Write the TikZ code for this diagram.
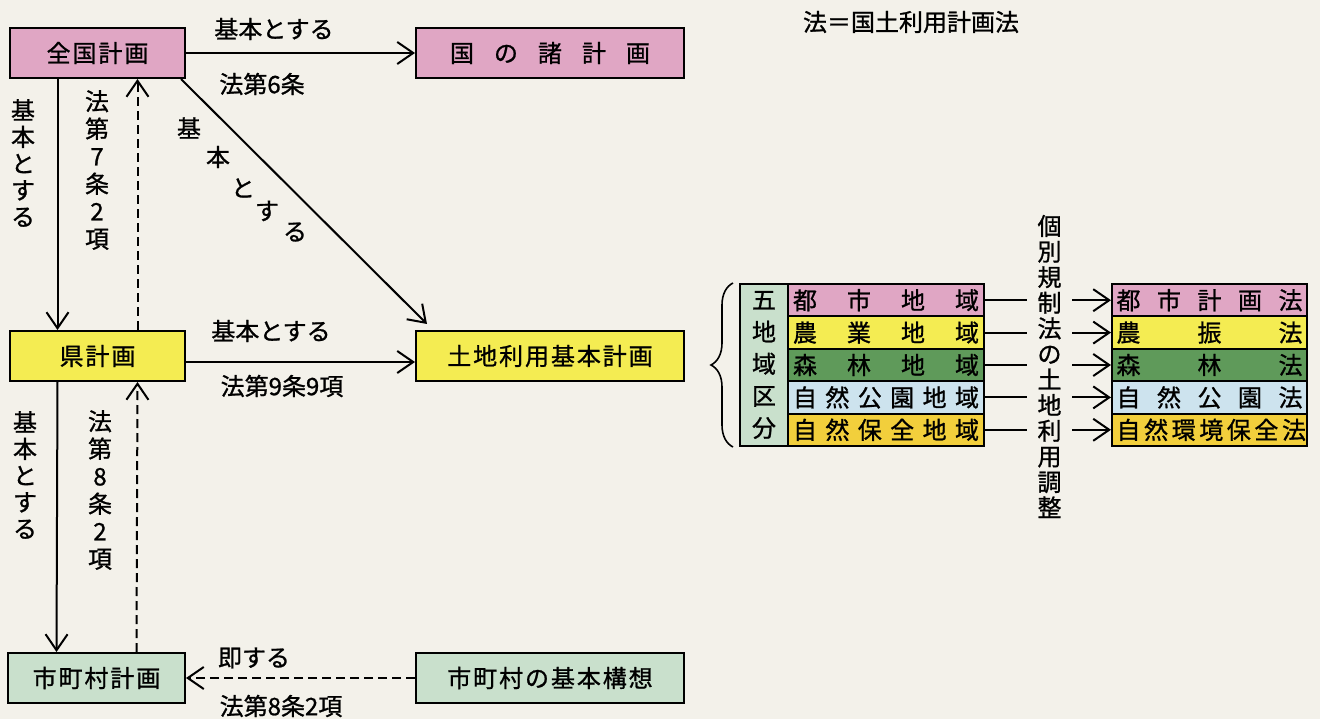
\documentclass[tikz,border=0pt]{standalone}
\usepackage{fontspec}
\setmainfont[FakeBold=1]{Noto Sans CJK JP}
\newfontfamily\boxfont[LetterSpace=8,FakeBold=1]{Noto Sans CJK JP}
\usepackage{tikz}
\usetikzlibrary{arrows.meta,decorations.pathreplacing}
\definecolor{paper}{HTML}{F3F1EA}
\definecolor{planPink}{HTML}{E0A6C4}
\definecolor{planYellow}{HTML}{F4EC52}
\definecolor{planGreen}{HTML}{C9E0CC}
\definecolor{darkGreen}{HTML}{5F9A5A}
\definecolor{lightBlue}{HTML}{CDE3EE}
\definecolor{planOrange}{HTML}{F2CF3C}

\begin{document}
\begin{tikzpicture}[x=1pt, y=-1pt, line width=2pt,
        every node/.style={font=\fontsize{24}{28}\selectfont}]
        \tikzstyle{planBox} = [draw=black, inner sep=0pt, minimum height=50pt,
            font=\boxfont\fontsize{24}{28}\selectfont]
        \tikzstyle{rowBox} = [draw=black, inner sep=0pt, minimum height=32.4pt,
            minimum width=196pt]
        \tikzstyle{vLabel} = [align=center, inner sep=0pt]
        \tikzstyle{arrowEdge} = [draw=black, -{Straight Barb[length=16pt,width=22pt]}]
        \tikzstyle{dashEdge} = [arrowEdge, dash pattern=on 9pt off 5pt]
        \fill[paper] (0,0) rectangle (1320,719);
        \useasboundingbox (0,0) rectangle (1320,719);
        % plans
        \node[planBox, fill=planPink, minimum width=175pt] (zen) at (97.5,53) {全国計画};
        \node[planBox, fill=planPink, minimum width=268pt] (kuni) at (550,53)
            {\makebox[200pt][s]{国 の 諸 計 画}};
        \node[planBox, fill=planYellow, minimum width=175pt] (ken) at (97.5,356) {県計画};
        \node[planBox, fill=planYellow, minimum width=268pt] (tochi) at (550,356) {土地利用基本計画};
        \node[planBox, fill=planGreen, minimum width=177pt] (shi) at (96.5,678) {市町村計画};
        \node[planBox, fill=planGreen, minimum width=268pt] (kousou) at (550,678) {市町村の基本構想};
        \node (hou) at (911,22) {法＝国土利用計画法};
        % connectors
        \draw[arrowEdge] (zen) -- (kuni);
        \draw[arrowEdge] ([yshift=-6pt]ken.east) -- ([yshift=-6pt]tochi.west);
        \draw[dashEdge] (kousou) -- (shi);
        \foreach \from/\to in {zen/ken, ken/shi}
            \draw[arrowEdge] ([xshift=-40pt]\from.south) -- ([xshift=-40pt]\to.north);
        \foreach \from/\to in {ken/zen, shi/ken}
            \draw[dashEdge] ([xshift=40pt]\from.north) -- ([xshift=40pt]\to.south);
        \draw[arrowEdge] ([xshift=-5pt]zen.south east) -- ([xshift=12pt,yshift=6pt]tochi.north west);
        % labels
        \node (l1) at (274,29) {基本とする};
        \node (l2) at (262,84) {法第6条};
        \node (l3) at (271,331) {基本とする};
        \node (l4) at (282,386) {法第9条9項};
        \node (l5) at (254,658) {即する};
        \node (l6) at (281,706) {法第8条2項};
        \node[vLabel, font=\fontsize{24}{26.6}\selectfont] (v1) at (23,163) {基\\本\\と\\す\\る};
        \node[vLabel, font=\fontsize{24}{27.5}\selectfont] (v2) at (97,170) {法\\第\\7\\条\\2\\項};
        \node[vLabel, font=\fontsize{24}{26.6}\selectfont] (v3) at (25,475) {基\\本\\と\\す\\る};
        \node[vLabel, font=\fontsize{24}{27.5}\selectfont] (v4) at (100,490) {法\\第\\8\\条\\2\\項};
        \foreach \ch/\x/\y in {基/189/128, 本/218/157, と/243/188, す/267/211, る/295/232}
            \node (d\x) at (\x,\y) {\ch};
        % land use zones
        \node[draw=black, fill=planGreen, minimum width=48pt, minimum height=162pt,
            inner sep=0pt, align=center, font=\fontsize{24}{32}\selectfont] (go) at (764,365)
            {五\\地\\域\\区\\分};
        \draw[decorate, decoration={brace, amplitude=22pt}, line width=1.6pt]
            ([xshift=-6pt]go.south west) -- ([xshift=-6pt]go.north west);
        \node[vLabel, font=\fontsize{24}{25.6}\selectfont, inner xsep=9.5pt,
            text width=24pt] (kobetsu) at (1049.5,366.5)
            {個\\別\\規\\制\\法\\の\\土\\地\\利\\用\\調\\整};
        \foreach \i/\zone/\law/\col in {1/都 市 地 域/都 市 計 画 法/planPink,
                2/農 業 地 域/農 振 法/planYellow,
                3/森 林 地 域/森 林 法/darkGreen,
                4/自 然 公 園 地 域/自 然 公 園 法/lightBlue,
                5/自 然 保 全 地 域/自 然 環 境 保 全 法/planOrange}
        {
            \node[rowBox, fill=\col] (z\i) at (886,300.2+32.4*\i-32.4)
                {\makebox[186pt][s]{\zone}};
            \node[rowBox, fill=\col, minimum width=195pt] (h\i) at (1209.5,300.2+32.4*\i-32.4)
                {\makebox[186pt][s]{\law}};
            \draw (z\i.east) -- (z\i.east -| kobetsu.west);
            \draw[arrowEdge] (h\i.west -| kobetsu.east) -- (h\i.west);
        }
    \end{tikzpicture}
\end{document}
